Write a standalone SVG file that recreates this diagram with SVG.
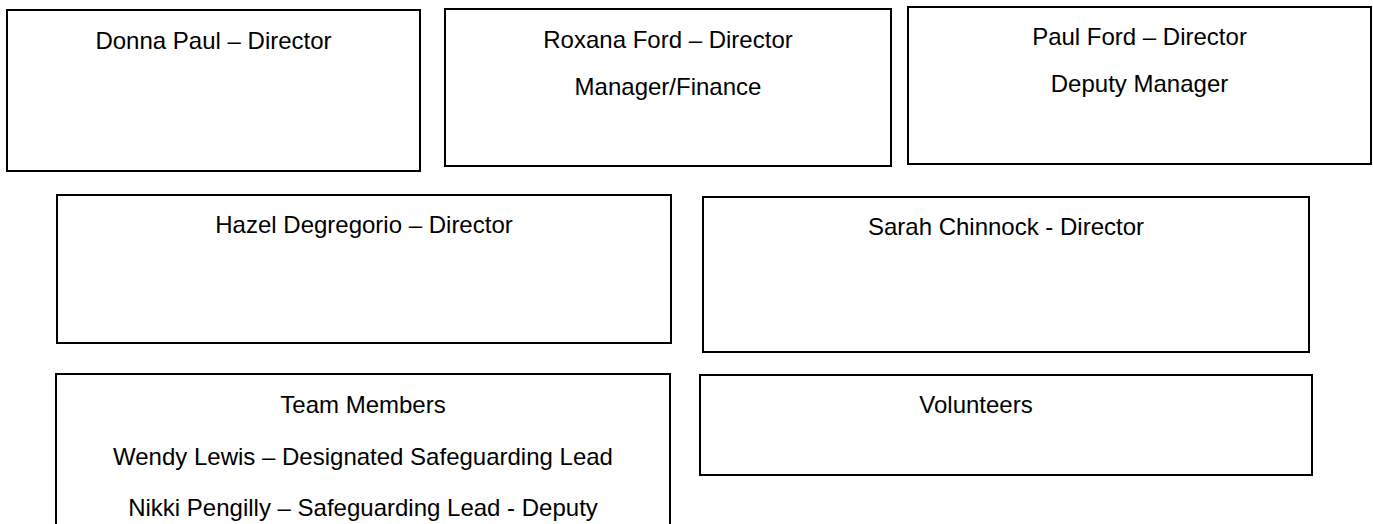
<svg xmlns="http://www.w3.org/2000/svg" width="1373" height="524" viewBox="0 0 1373 524">
<style>
.box{fill:#fff;stroke:#000;stroke-width:2}
.t{font-family:"Liberation Sans",Arial,sans-serif;font-size:24px;fill:#000;text-anchor:middle}
</style>
<rect width="1373" height="524" fill="#fff"/>
<g id="connectors"></g>
<g id="donna">
<rect class="box" x="7" y="10" width="413" height="161"/>
<text class="t" x="213.5" y="49">Donna Paul – Director</text>
</g>
<g id="roxana">
<rect class="box" x="445" y="9" width="446" height="157"/>
<text class="t" x="668" y="48">Roxana Ford – Director</text>
<text class="t" x="668" y="95">Manager/Finance</text>
</g>
<g id="paul">
<rect class="box" x="908" y="7" width="463" height="157"/>
<text class="t" x="1139.5" y="45">Paul Ford – Director</text>
<text class="t" x="1139.5" y="92">Deputy Manager</text>
</g>
<g id="hazel">
<rect class="box" x="57" y="195" width="614" height="148"/>
<text class="t" x="364" y="233">Hazel Degregorio – Director</text>
</g>
<g id="sarah">
<rect class="box" x="703" y="197" width="606" height="155"/>
<text class="t" x="1006" y="235">Sarah Chinnock - Director</text>
</g>
<g id="team">
<rect class="box" x="56" y="374" width="614" height="160"/>
<text class="t" x="363" y="413">Team Members</text>
<text class="t" x="363" y="465">Wendy Lewis – Designated Safeguarding Lead</text>
<text class="t" x="363" y="516">Nikki Pengilly – Safeguarding Lead - Deputy</text>
</g>
<g id="volunteers">
<rect class="box" x="700" y="375" width="612" height="100"/>
<text class="t" x="976" y="413">Volunteers</text>
</g>
</svg>
